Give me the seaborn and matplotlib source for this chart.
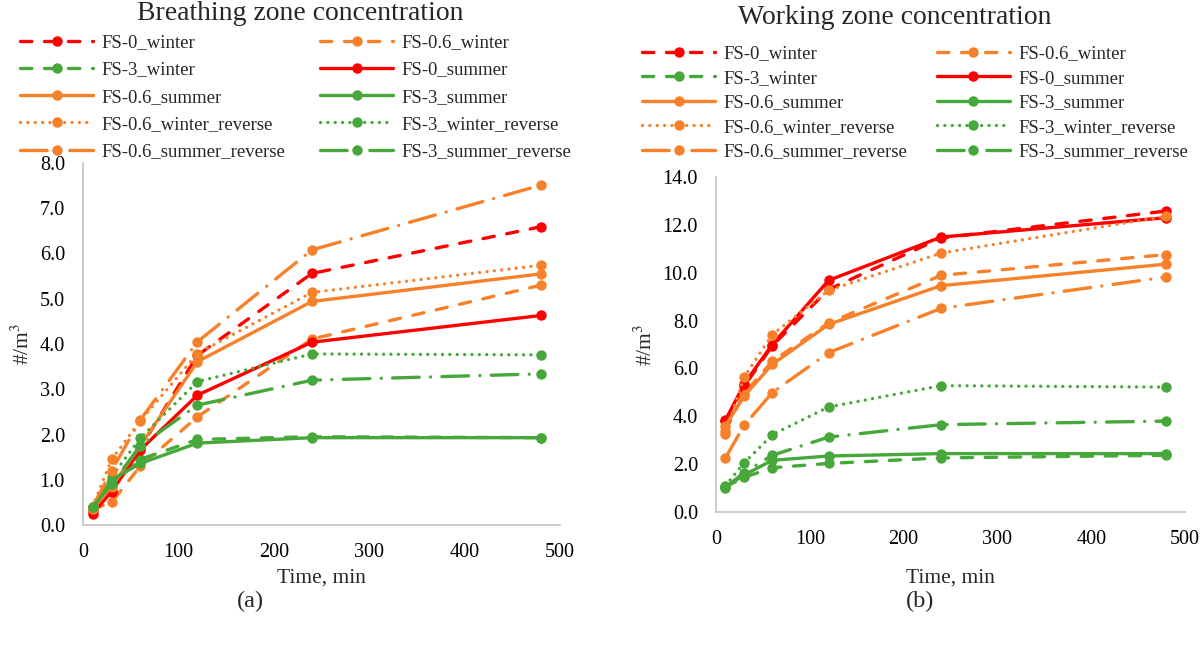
import numpy as np
import pandas as pd
import matplotlib
matplotlib.use("Agg")
import matplotlib.pyplot as plt
import seaborn as sns

sns.set_theme(style="white")
plt.rcParams['font.family'] = ['Liberation Serif', 'DejaVu Serif']
plt.rcParams['mathtext.fontset'] = 'stix'

# ---------------- data ----------------
time_min = [10, 30, 60, 120, 240, 480]

series_names = ["FS-0_winter", "FS-0.6_winter", "FS-3_winter", "FS-0_summer",
                "FS-0.6_summer", "FS-3_summer", "FS-0.6_winter_reverse",
                "FS-3_winter_reverse", "FS-0.6_summer_reverse", "FS-3_summer_reverse"]

# (a) Breathing zone concentration
breathing_fs0_winter = [0.30, 0.75, 1.70, 3.75, 5.56, 6.59]
breathing_fs06_winter = [0.35, 0.50, 1.30, 2.39, 4.11, 5.30]
breathing_fs3_winter = [0.40, 0.90, 1.45, 1.89, 1.95, 1.93]
breathing_fs0_summer = [0.25, 0.74, 1.66, 2.87, 4.04, 4.63]
breathing_fs06_summer = [0.35, 0.85, 1.75, 3.61, 4.94, 5.55]
breathing_fs3_summer = [0.40, 1.00, 1.36, 1.81, 1.93, 1.93]
breathing_fs06_winter_rev = [0.40, 1.45, 2.30, 3.79, 5.14, 5.74]
breathing_fs3_winter_rev = [0.40, 1.07, 1.92, 3.17, 3.78, 3.76]
breathing_fs06_summer_rev = [0.40, 1.20, 2.32, 4.05, 6.08, 7.51]
breathing_fs3_summer_rev = [0.40, 0.90, 1.75, 2.65, 3.20, 3.34]

# (b) Working zone concentration
working_fs0_winter = [3.80, 5.25, 6.95, 9.30, 11.45, 12.58]
working_fs06_winter = [3.40, 4.95, 6.30, 7.90, 9.89, 10.76]
working_fs3_winter = [1.05, 1.45, 1.85, 2.03, 2.26, 2.37]
working_fs0_summer = [3.83, 5.35, 7.00, 9.68, 11.49, 12.30]
working_fs06_summer = [3.60, 4.85, 6.17, 7.84, 9.46, 10.36]
working_fs3_summer = [1.05, 1.55, 2.16, 2.34, 2.44, 2.44]
working_fs06_winter_rev = [3.27, 5.64, 7.41, 9.26, 10.82, 12.36]
working_fs3_winter_rev = [1.10, 2.05, 3.23, 4.39, 5.28, 5.22]
working_fs06_summer_rev = [2.26, 3.62, 4.99, 6.66, 8.51, 9.82]
working_fs3_summer_rev = [1.02, 1.65, 2.37, 3.13, 3.65, 3.80]

breathing = [breathing_fs0_winter, breathing_fs06_winter, breathing_fs3_winter,
             breathing_fs0_summer, breathing_fs06_summer, breathing_fs3_summer,
             breathing_fs06_winter_rev, breathing_fs3_winter_rev,
             breathing_fs06_summer_rev, breathing_fs3_summer_rev]
working = [working_fs0_winter, working_fs06_winter, working_fs3_winter,
           working_fs0_summer, working_fs06_summer, working_fs3_summer,
           working_fs06_winter_rev, working_fs3_winter_rev,
           working_fs06_summer_rev, working_fs3_summer_rev]

x_ticks = [0, 100, 200, 300, 400, 500]
y_ticks_a = [0, 1, 2, 3, 4, 5, 6, 7, 8]
y_ticks_b = [0, 2, 4, 6, 8, 10, 12, 14]

# ---------------- styles ----------------
RED = "#FF0000"
ORANGE = "#F7812A"
GREEN = "#46A83A"
colors = [RED, ORANGE, GREEN, RED, ORANGE, GREEN, ORANGE, GREEN, ORANGE, GREEN]
DASH = (0, (3.4, 3.8))
DOT = (0, (0.01, 2.2))
DASHDOT = (0, (8.0, 3.4, 0.01, 3.4))
styles = [DASH, DASH, DASH, "-", "-", "-", DOT, DOT, DASHDOT, DASHDOT]

LW = 2.4
MS = 7.5

fig = plt.figure(figsize=(12.02, 6.51), dpi=100)
W, H = 1202, 651


def axes_px(l, r, b, t):
    return fig.add_axes([l / W, 1 - b / H, (r - l) / W, (b - t) / H])


ax_a = axes_px(83, 560, 525, 163)
ax_b = axes_px(716, 1185, 512, 177)


def draw(ax, data, ymax, yticks, xlabelpad, ylabelpad):
    for name, vals, c, ls in zip(series_names, data, colors, styles):
        df = pd.DataFrame({"Time": time_min, "Conc": vals})
        sns.lineplot(data=df, x="Time", y="Conc", ax=ax, color=c, linestyle=ls,
                     linewidth=LW, marker="o", markersize=MS,
                     markeredgecolor=c, markeredgewidth=0, label=name,
                     dash_capstyle="round", solid_capstyle="round", legend=False)
    ax.set_xlim(0, 500)
    ax.set_ylim(0, ymax)
    ax.set_xticks(x_ticks)
    ax.set_yticks(yticks)
    ax.set_yticklabels([f"{v:.1f}" for v in yticks])
    ax.tick_params(axis="both", labelsize=14.5, length=0, colors="black")
    ax.tick_params(axis="y", pad=13)
    ax.tick_params(axis="x", pad=13)
    for s in ["top", "right"]:
        ax.spines[s].set_visible(False)
    for s in ["left", "bottom"]:
        ax.spines[s].set_color("#C8C8C8")
        ax.spines[s].set_linewidth(1.3)
    ax.set_xlabel("Time, min", fontsize=15.5, labelpad=xlabelpad)
    ax.set_ylabel("#/m$^3$", fontsize=15.5, labelpad=ylabelpad)
    ax.grid(False)


draw(ax_a, breathing, 8, y_ticks_a, 5, 4)
draw(ax_b, working, 14, y_ticks_b, 14, 4)

fig.text(300 / W, 1 - 14 / H, "Breathing zone concentration", ha="center", va="center", fontsize=20)
fig.text(895 / W, 1 - 18 / H, "Working zone concentration", ha="center", va="center", fontsize=20)

order = [0, 2, 4, 6, 8, 1, 3, 5, 7, 9]
for ax, xa, ya, lsp, csp in [(ax_a, 20, 34, 0.54, 1.85), (ax_b, 642, 45, 0.40, 1.55)]:
    h, l = ax.get_legend_handles_labels()
    fig.legend([h[i] for i in order], [l[i] for i in order], loc="upper left",
               bbox_to_anchor=(xa / W, 1 - ya / H),
               ncol=2, frameon=False, fontsize=13.5, handlelength=3.9,
               handletextpad=0.45, columnspacing=csp, labelspacing=lsp,
               borderpad=0, borderaxespad=0)

fig.text(250 / W, 1 - 601 / H, "(a)", ha="center", va="center", fontsize=17.5)
fig.text(920 / W, 1 - 601 / H, "(b)", ha="center", va="center", fontsize=17.5)

fig.savefig("out.png", dpi=100, facecolor="white")
